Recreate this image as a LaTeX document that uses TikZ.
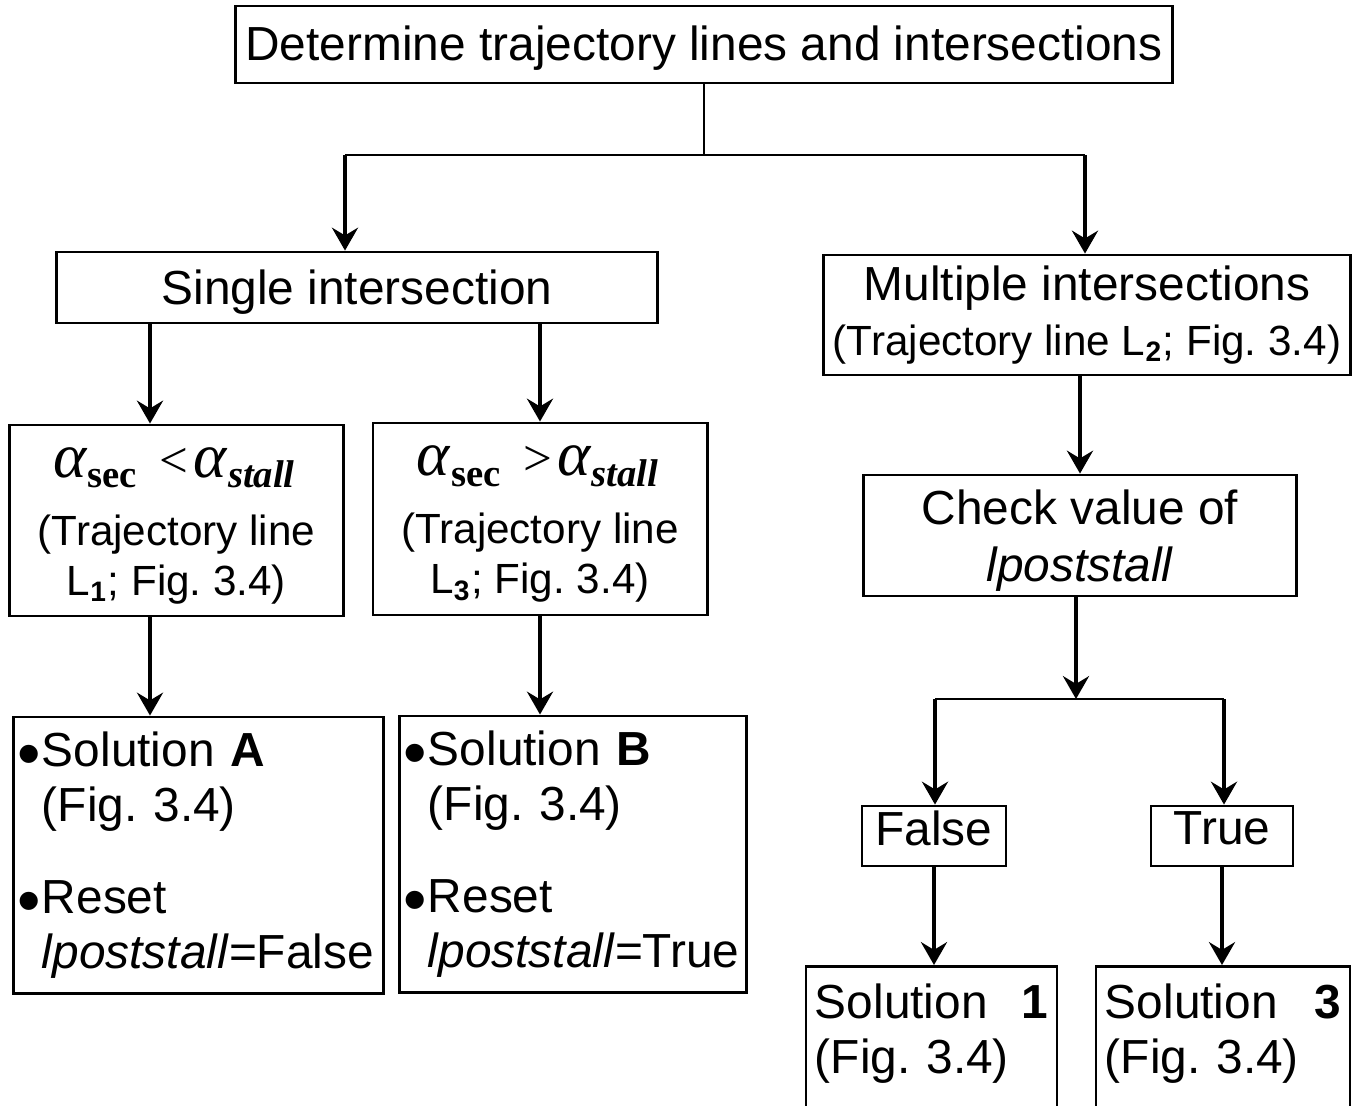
\documentclass[tikz,border=0pt]{standalone}
\usepackage{fontspec}
\setmainfont{Liberation Sans}
\newfontfamily\timesfont{Liberation Serif}
\usetikzlibrary{arrows.meta,calc}
\frenchspacing

\newcommand\bigf{\fontsize{13.6}{15.6}\selectfont}
\newcommand\smallf{\fontsize{12}{13.4}\selectfont}
\newcommand\lflag{\textit{lpoststall}}
\newcommand\blt{\makebox[0.25cm][l]{\hspace{0.01cm}\smash{\raisebox{-2.9pt}{\fontsize{19}{19}\selectfont•}}}}
% alpha_sec <> alpha_stall
\newcommand\angcmp[1]{{\timesfont\fontsize{14.5}{17}\selectfont
  \rule{0pt}{11.5pt}\hspace{-0.1em}\textit{\fontsize{18}{17}\selectfont α}\raisebox{-0.45ex}{\fontsize{11}{12}\selectfont\textbf{sec}}\hspace{0.45em}#1\hspace{0.1em}\textit{\fontsize{18}{17}\selectfont α}\raisebox{-0.45ex}{\fontsize{11}{12}\selectfont\textbf{\textit{stall}}}}}

\tikzset{
  box/.style={draw, line width=0.8pt, inner sep=0pt, align=center, font=\bigf},
  arr/.style={line width=1.1pt, -{Stealth[length=6.5pt,width=7.4pt,inset=2.2pt]}},
  link/.style={line width=0.55pt}
}

\begin{document}
\begin{tikzpicture}[x=0.01cm,y=-0.01cm]
  \useasboundingbox (0,0) rectangle (1363,1105);
  \clip (0,0) rectangle (1363,1105);

  %%%%% boxes %%%%%
  \node[box, text depth=0.1em, minimum width=9.36cm, minimum height=0.77cm] (top) at (704,44.5) {Determine trajectory lines and intersections};

  \node[box, text depth=0pt, minimum width=6.00cm, minimum height=0.71cm] (single) at (357,287.5) {Single intersection};
  \node[box, minimum width=5.26cm, minimum height=1.20cm] (multi) at (1087,315)
    {Multiple intersections\\{\smallf (Trajectory line L\textsubscript{\textbf{2}}; Fig. 3.4)}};

  \node[box, font=\smallf, minimum width=3.33cm, minimum height=1.91cm] (aless) at (176.5,520.5)
    {\angcmp{<}\\[6pt](Trajectory line\\[0.8pt]L\textsubscript{\textbf{1}}; Fig. 3.4)};
  \node[box, font=\smallf, minimum width=3.34cm, minimum height=1.92cm] (agreat) at (540,519)
    {\angcmp{>}\\[6pt](Trajectory line\\[0.8pt]L\textsubscript{\textbf{3}}; Fig. 3.4)};

  \node[box, align=left, text width=3.63cm, minimum width=3.69cm, minimum height=2.76cm] (solA) at (198.5,855)
    {\blt Solution \textbf{A}\\\hspace*{0.25cm}(Fig. 3.4)\\[10.5pt]\blt Reset\\\hspace*{0.25cm}\lflag=False};
  \node[box, align=left, text width=3.40cm, minimum width=3.46cm, minimum height=2.76cm] (solB) at (573,854)
    {\blt Solution \textbf{B}\\\hspace*{0.25cm}(Fig. 3.4)\\[10.5pt]\blt Reset\\\hspace*{0.25cm}\lflag=True};

  \node[box, text depth=0pt, minimum width=4.32cm, minimum height=1.21cm] (check) at (1080,535.5) {Check value of\\[0.5pt]\lflag};

  \node[box, text depth=4.5pt, minimum width=1.44cm, minimum height=0.60cm] (false) at (934,836) {False};
  \node[box, text depth=4.5pt, minimum width=1.42cm, minimum height=0.60cm] (true) at (1222,836) {True};

  \node[box, anchor=north, align=left, inner ysep=5pt, text width=2.33cm, minimum width=2.51cm] (sol1) at (931.5,965)
    {Solution\hskip 0pt plus 1filll\textbf{1}\\(Fig. 3.4)\\[20pt]\mbox{}};
  \node[box, anchor=north, align=left, inner ysep=5pt, text width=2.36cm, minimum width=2.54cm] (sol3) at (1223,965)
    {Solution\hskip 0pt plus 1filll\textbf{3}\\(Fig. 3.4)\\[20pt]\mbox{}};

  %%%%% connectors %%%%%
  \coordinate (sl) at (345,155);
  \coordinate (sr) at (1085,155);
  \draw[link] (top.south) -- (top.south |- sl);
  \draw[link] (sl) -- (sr);
  \draw[arr] (sl) -- (sl |- single.north);
  \draw[arr] (sr) -- (sr |- multi.north);

  \coordinate (xa) at (150,0);
  \coordinate (xb) at (540,0);
  \draw[arr] (single.south -| xa) -- (aless.north -| xa);
  \draw[arr] (single.south -| xb) -- (agreat.north -| xb);
  \draw[arr] (aless.south -| xa) -- (solA.north -| xa);
  \draw[arr] (agreat.south -| xb) -- (solB.north -| xb);

  \draw[arr] (multi.south -| check.north) -- (check.north);
  \coordinate (sb) at (1076,699);
  \coordinate (fl) at (935,699);
  \coordinate (fr) at (1224,699);
  \draw[arr] (check.south -| sb) -- (sb);
  \draw[link] (fl) -- (fr);
  \draw[arr] (fl) -- (fl |- false.north);
  \draw[arr] (fr) -- (fr |- true.north);
  \draw[arr] (false.south) -- (false.south |- sol1.north);
  \draw[arr] (true.south) -- (true.south |- sol3.north);
\end{tikzpicture}
\end{document}
